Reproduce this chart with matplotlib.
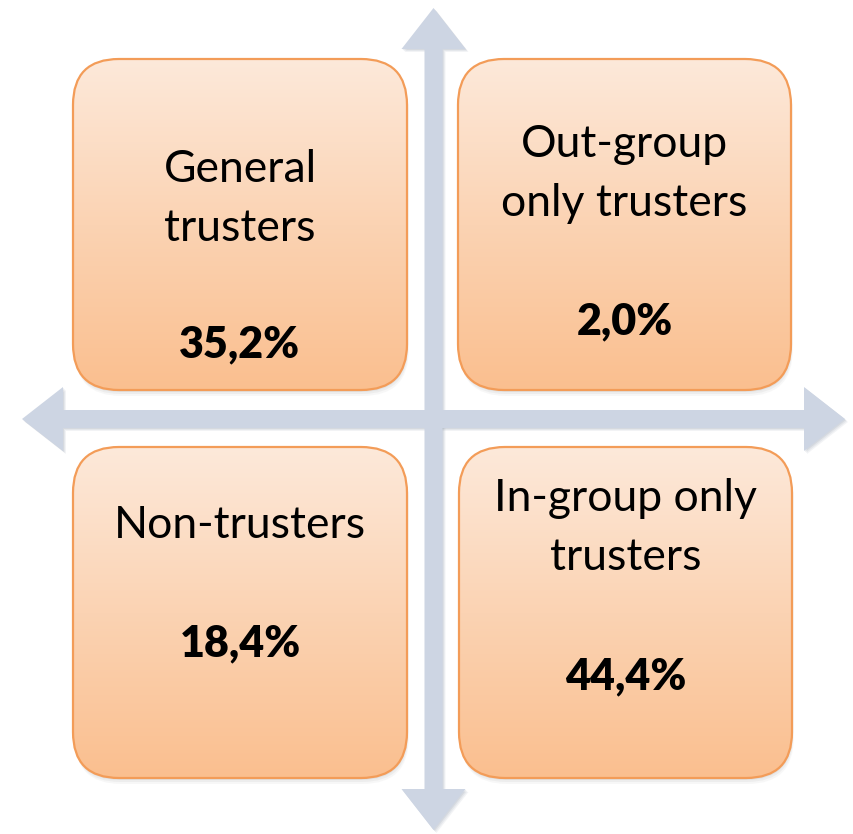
import numpy as np
import matplotlib
matplotlib.use("Agg")
import matplotlib.pyplot as plt
from matplotlib.patches import FancyBboxPatch, Polygon
from matplotlib.colors import LinearSegmentedColormap

# quadrant contents
labels = ["General\ntrusters", "Out-group\nonly trusters", "Non-trusters", "In-group only\ntrusters"]
shares = ["35,2%", "2,0%", "18,4%", "44,4%"]

# layout in pixel units (y grows downward)
boxes = [(73, 59, 334, 331), (458, 59, 333, 331), (73, 447, 334, 331), (459, 447, 333, 331)]
label_y = [199, 174, 526, 528]
share_y = [344, 321, 643, 676]

W, H = 854, 834
fig = plt.figure(figsize=(W / 100, H / 100), dpi=100)
ax = fig.add_axes([0, 0, 1, 1])
ax.set_xlim(0, W)
ax.set_ylim(H, 0)
ax.axis("off")

FONT = "Lato"
arrow_col = "#cdd5e3"
shadow_col = "#9aa3b3"


def cross_arrow(cx, cy, half_len, shaft, head_w, head_len, vertical):
    a = half_len
    s = shaft / 2
    h = head_w / 2
    pts = [(-a, 0), (-a + head_len, -h), (-a + head_len, -s), (a - head_len, -s),
           (a - head_len, -h), (a, 0), (a - head_len, h), (a - head_len, s),
           (-a + head_len, s), (-a + head_len, h)]
    if vertical:
        return [(cx + y, cy + x) for x, y in pts]
    return [(cx + x, cy + y) for x, y in pts]


for vertical, cx, cy, half in [(True, 433.5, 419, 411), (False, 433.5, 419, 411.5)]:
    pts = cross_arrow(cx, cy, half, 18, 64, 41, vertical)
    for d, al in [(3, 0.12), (2, 0.15), (1, 0.2)]:
        ax.add_patch(Polygon([(x + d, y + d) for x, y in pts], closed=True,
                             fc=shadow_col, ec="none", alpha=al, zorder=1))
    ax.add_patch(Polygon(pts, closed=True, fc=arrow_col, ec="none", zorder=2))

grad = LinearSegmentedColormap.from_list("peach", ["#fde9da", "#fbd3b3", "#fabf8f"])
g = np.linspace(0, 1, 256).reshape(-1, 1)

for (x, y, w, h), lab, sh, ly, sy in zip(boxes, labels, shares, label_y, share_y):
    r = 46
    # soft shadow below the box
    for d, al in [(6, 0.06), (4, 0.08), (2, 0.1)]:
        ax.add_patch(FancyBboxPatch((x + d * 0.3, y + d), w, h,
                                    boxstyle=f"round,pad=0,rounding_size={r}",
                                    fc="#808080", ec="none", alpha=al, zorder=3))
    patch = FancyBboxPatch((x, y), w, h, boxstyle=f"round,pad=0,rounding_size={r}",
                           fc="none", ec="#f39c58", lw=1.6, zorder=6)
    ax.add_patch(patch)
    im = ax.imshow(g, cmap=grad, extent=(x, x + w, y + h, y), aspect="auto",
                   interpolation="bilinear", zorder=4)
    im.set_clip_path(patch)
    cx = x + w / 2
    ax.text(cx, ly, lab, ha="center", va="center", fontsize=32, family=FONT,
            color="black", linespacing=1.55, zorder=7)
    ax.text(cx, sy, sh, ha="center", va="center", fontsize=31, family=FONT,
            fontweight="heavy", color="black", zorder=7)

fig.savefig("out.png", dpi=100)
